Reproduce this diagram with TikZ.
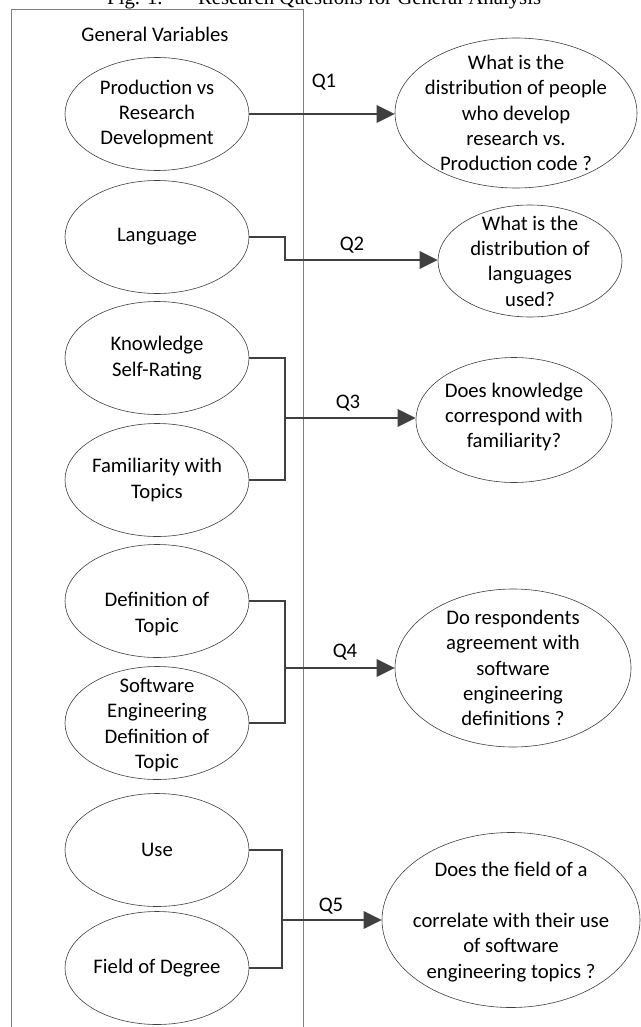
\documentclass[tikz,border=0pt]{standalone}
\usepackage{fontspec}
\setmainfont{Carlito}
\newfontfamily\capfont{Liberation Serif}
\usetikzlibrary{shapes.geometric,arrows.meta}
\definecolor{linegray}{HTML}{404040}
\definecolor{boxgray}{HTML}{808080}
\begin{document}
\begin{tikzpicture}[x=1pt,y=-1pt,
    varell/.style={draw=linegray,line width=0.6pt,ellipse,inner sep=0pt,minimum width=184pt,minimum height=113pt},
    qell/.style={draw=linegray,line width=0.6pt,ellipse,inner sep=0pt},
    txt/.style={align=center,inner sep=0pt,font=\fontsize{20.7}{25.4}\selectfont},
    link/.style={draw=linegray,line width=2.9pt},
    arr/.style={link,-{Triangle[length=18pt,width=17pt]}}]
    \path[use as bounding box,fill=white] (0,0) rectangle (640,1027);
    \node[anchor=base west,inner sep=0pt,font=\capfont\fontsize{20.8}{24}\selectfont] (cap) at (107,4.5) {Fig. 1.\hspace{1.7em}Research Questions for General Analysis};
    \draw[boxgray,line width=1pt] (11,10) rectangle (303,1045);
    \node[txt] (gv) at (155,34) {General Variables};
    % variables
    \node[varell] (prod) at (157,114) {};
    \node[txt] (prodt) at (prod) {Production vs\\Research\\Development};
    \node[varell] (lang) at (157,237) {};
    \node[txt] (langt) at (lang) {Language};
    \node[varell] (know) at (157,358) {};
    \node[txt] (knowt) at (know) {Knowledge\\Self-Rating};
    \node[varell] (fam) at (157,480) {};
    \node[txt] (famt) at (fam) {Familiarity with\\Topics};
    \node[varell] (defn) at (157,601) {};
    \node[txt] (defnt) at (157,614) {Definition of\\Topic};
    \node[varell] (sedef) at (157,723) {};
    \node[txt] (sedeft) at (157,725) {Software\\Engineering\\Definition of\\Topic};
    \node[varell] (use) at (157,850) {};
    \node[txt] (uset) at (use) {Use};
    \node[varell] (field) at (157,968) {};
    \node[txt] (fieldt) at (field) {Field of Degree};
    % questions
    \node[qell,minimum width=242pt,minimum height=150pt] (q1) at (516,113) {};
    \node[txt] (q1t) at (q1) {What is the\\distribution of people\\who develop\\research vs.\\Production code ?};
    \node[qell,minimum width=184pt,minimum height=112pt] (q2) at (530,261) {};
    \node[txt] (q2t) at (q2) {What is the\\distribution of\\languages\\used?};
    \node[qell,minimum width=196pt,minimum height=125pt] (q3) at (514,420) {};
    \node[txt] (q3t) at (514,417) {Does knowledge\\correspond with\\familiarity?};
    \node[qell,minimum width=236pt,minimum height=158pt] (q4) at (513,668) {};
    \node[txt] (q4t) at (q4) {Do respondents\\agreement with\\software\\engineering\\definitions ?};
    \node[qell,minimum width=258pt,minimum height=175pt] (q5) at (511,920) {};
    \node[txt] (q5t) at (511,922) {Does the field of a\\[25.4pt]correlate with their use\\of software\\engineering topics ?};
    % connectors
    \coordinate (b2) at (285,260);
    \coordinate (b3) at (285,418);
    \coordinate (b4) at (285,668);
    \coordinate (b5) at (282,920);
    \draw[arr] (prod.east) -- (prod.east -| q1.west);
    \draw[arr] (lang.east) -| (b2) -- (b2 -| q2.west);
    \draw[link] (know.east) -| (b3) |- (fam.east);
    \draw[arr] (b3) -- (b3 -| q3.west);
    \draw[link] (defn.east) -| (b4) |- (sedef.east);
    \draw[arr] (b4) -- (b4 -| q4.west);
    \draw[link] (use.east) -| (b5) |- (field.east);
    \draw[arr] (b5) -- (b5 -| q5.west);
    \node[txt] (l1) at (324,82) {Q1};
    \node[txt] (l2) at (352,245) {Q2};
    \node[txt] (l3) at (348,403) {Q3};
    \node[txt] (l4) at (345,652) {Q4};
    \node[txt] (l5) at (331,906) {Q5};
\end{tikzpicture}
\end{document}
